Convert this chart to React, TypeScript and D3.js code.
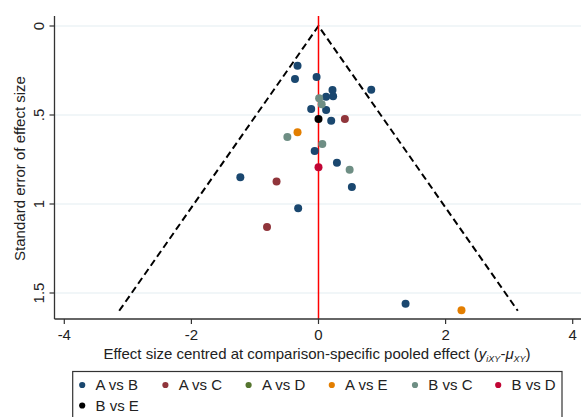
import React from "react";
import * as d3 from "d3";

// comparisons in legend order
const groups = ["A vs B", "A vs C", "A vs D", "A vs E", "B vs C", "B vs D", "B vs E"];
const groupColors = ["#1a476f", "#90353b", "#55752f", "#e37e00", "#6e8e84", "#c10534", "#000000"];

// centred effect size, standard error, comparison index
const effects = [-0.33, -0.37, -0.03, 0.22, 0.83, 0.12, 0.23, -0.115, 0.12, 0.2, -0.06, 0.29, 0.525, -1.23, -0.32, 1.37,
  -0.66, 0.415, -0.81,
  -0.33, 2.25,
  -0.49, 0.01, 0.05, 0.06, 0.49,
  0.0,
  0.0];
const stdErrors = [0.223, 0.298, 0.287, 0.36, 0.358, 0.397, 0.395, 0.466, 0.472, 0.532, 0.702, 0.768, 0.904, 0.85, 1.024, 1.56,
  0.873, 0.522, 1.129,
  0.597, 1.597,
  0.624, 0.406, 0.44, 0.663, 0.807,
  0.794,
  0.522];
const groupIdx = [0, 0, 0, 0, 0, 0, 0, 0, 0, 0, 0, 0, 0, 0, 0, 0,
  1, 1, 1,
  3, 3,
  4, 4, 4, 4, 4,
  5,
  6];

const xTicks = [-4, -2, 0, 2, 4];
const yTicks = [0, 0.5, 1, 1.5];
const yTickLabels = ["0", ".5", "1", "1.5"];
const funnelMaxSE = 1.6;

const App: React.FC = () => {
  const width = 581;
  const height = 417;
  const x = d3.scaleLinear().domain([-4, 4]).range([64.3, 572.7]);
  const y = d3.scaleLinear().domain([0, 1.5]).range([26, 293]);
  const plotLeft = 54.5;
  const plotTop = 16;
  const plotBottom = 319;
  const plotRight = 581;
  const font = "'Liberation Sans', Arial, sans-serif";

  const funnel = d3.line<[number, number]>()
    .x((d) => x(d[0]))
    .y((d) => y(d[1]));
  const funnelPts: [number, number][] = [
    [-1.96 * funnelMaxSE, funnelMaxSE],
    [0, 0],
    [1.96 * funnelMaxSE, funnelMaxSE],
  ];

  const points = effects.map((e, i) => ({e, se: stdErrors[i], g: groupIdx[i]}));

  return (
    <svg width={width} height={height} style={{position: "absolute", left: 0, top: 0, background: "#fff"}} fontFamily={font}>
      {/* gridlines */}
      {yTicks.map((t) => (
        <line key={t} x1={plotLeft} x2={plotRight} y1={y(t)} y2={y(t)} stroke="#e4eef1" strokeWidth={1.2} />
      ))}
      {/* funnel */}
      <path d={funnel(funnelPts) ?? ""} fill="none" stroke="#000" strokeWidth={2} strokeDasharray="7,4" />
      {/* pooled effect line */}
      <line x1={x(0)} x2={x(0)} y1={plotTop} y2={plotBottom} stroke="#ff0000" strokeWidth={1.5} />
      {/* points */}
      {points.map((p, i) => (
        <circle key={i} cx={x(p.e)} cy={y(p.se)} r={4} fill={groupColors[p.g]} />
      ))}
      {/* axes */}
      <line x1={plotLeft} x2={plotLeft} y1={plotTop} y2={plotBottom} stroke="#333" strokeWidth={1.3} />
      <line x1={plotLeft} x2={plotRight} y1={plotBottom} y2={plotBottom} stroke="#333" strokeWidth={1.3} />
      {yTicks.map((t, i) => (
        <g key={t}>
          <line x1={plotLeft - 5} x2={plotLeft} y1={y(t)} y2={y(t)} stroke="#333" strokeWidth={1.2} />
          <text transform={`translate(44,${y(t)}) rotate(-90)`} textAnchor="middle" fontSize={15} fill="#222">
            {yTickLabels[i]}
          </text>
        </g>
      ))}
      {xTicks.map((t) => (
        <g key={t}>
          <line x1={x(t)} x2={x(t)} y1={plotBottom} y2={plotBottom + 5} stroke="#333" strokeWidth={1.2} />
          <text x={x(t)} y={340} textAnchor="middle" fontSize={15} fill="#222">
            {t}
          </text>
        </g>
      ))}
      <text transform="translate(25,168.5) rotate(-90)" textAnchor="middle" fontSize={15} fill="#222">
        Standard error of effect size
      </text>
      <text x={317} y={359} textAnchor="middle" fontSize={15} fill="#222">
        Effect size centred at comparison-specific pooled effect (
        <tspan fontStyle="italic">y</tspan>
        <tspan fontStyle="italic" fontSize={9} dy={3}>iXY</tspan>
        <tspan dy={-3}>-</tspan>
        <tspan fontStyle="italic">μ</tspan>
        <tspan fontStyle="italic" fontSize={9} dy={3}>XY</tspan>
        <tspan dy={-3}>)</tspan>
      </text>
      {/* legend */}
      <rect x={72.7} y={371.5} width={489.3} height={60} fill="#fff" stroke="#333" strokeWidth={1.2} />
      {groups.map((g, i) => {
        const col = i % 6;
        const row = Math.floor(i / 6);
        const lx = 82.2 + col * 83.2;
        const ly = 385 + row * 20.5;
        return (
          <g key={g}>
            <circle cx={lx} cy={ly} r={3.1} fill={groupColors[i]} />
            <text x={lx + 13.3} y={ly + 5} fontSize={15} fill="#222">
              {g}
            </text>
          </g>
        );
      })}
    </svg>
  );
};

export default App;
